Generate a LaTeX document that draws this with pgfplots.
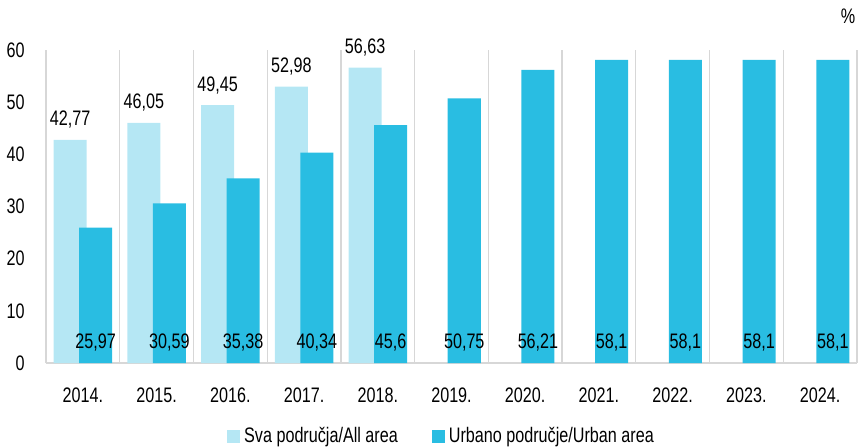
\documentclass[border=0pt]{standalone}
\usepackage{pgfplots}
\pgfplotsset{compat=1.18}
\usepackage{fontspec}
\setmainfont{Liberation Sans}[FakeStretch=0.77]
\definecolor{lightbar}{RGB}{181,231,244}
\definecolor{darkbar}{RGB}{41,189,226}
\definecolor{sepgray}{RGB}{215,215,215}
\begin{document}
\begin{tikzpicture}
\useasboundingbox (0,0) rectangle (431.5pt,223.5pt);
\begin{axis}[
  at={(23pt,42pt)}, anchor=south west,
  scale only axis, width=405.5pt, height=156.5pt,
  xmin=-0.5, xmax=10.5, ymin=0, ymax=60,
  clip=false,
  axis line style={draw=none},
  major tick length=0pt, minor tick length=0pt,
  xtick={0,...,10},
  xticklabels={2014.,2015.,2016.,2017.,2018.,2019.,2020.,2021.,2022.,2023.,2024.},
  minor xtick={-0.5,0.5,...,10.5},
  xminorgrids=true,
  minor grid style={draw=sepgray, line width=0.6pt},
  ytick={0,10,...,60},
  extra y ticks={0},
  extra y tick labels={},
  extra y tick style={grid=major, major grid style={draw=sepgray, line width=1pt}},
  /pgf/number format/assume math mode=true,
  tick label style={font=\fontsize{10.5}{12}\selectfont, inner sep=0pt},
  yticklabel style={anchor=east},
  yticklabel shift={10.5pt},
  xticklabel style={anchor=north},
  xticklabel shift={12pt},
  legend style={at={(0.5,0)}, anchor=center, yshift=-36.75pt, xshift=-4.5pt,
    draw=none, fill=none, inner sep=0pt,
    font=\fontsize{10.5}{12}\selectfont,
    /tikz/every even column/.append style={column sep=15pt}},
  legend columns=2,
  legend image code/.code={\fill[#1] (0pt,-3.25pt) rectangle (6.5pt,3.25pt);},
]
\addplot[ybar, bar width=0.448, bar shift=0pt, fill=lightbar, draw=none,
  nodes near coords={\pgfmathprintnumber[use comma,fixed,precision=2]{\pgfplotspointmeta}},
  every node near coord/.append style={anchor=base, yshift=7pt, inner sep=0pt,
    font=\fontsize{10.5}{12}\selectfont, text=black}]
  coordinates {(-0.173,42.77) (0.827,46.05) (1.827,49.45) (2.827,52.98) (3.827,56.63)};
\addlegendentry{Sva područja/All area}
\addplot[ybar, bar width=0.448, bar shift=0pt, fill=darkbar, draw=none]
  coordinates {(0.173,25.97) (1.173,30.59) (2.173,35.38) (3.173,40.34) (4.173,45.6)
    (5.173,50.75) (6.173,56.21) (7.173,58.1) (8.173,58.1) (9.173,58.1) (10.173,58.1)};
\addlegendentry{Urbano područje/Urban area}
\addplot[draw=none, mark=none, forget plot, point meta=explicit,
  nodes near coords={\pgfmathprintnumber[use comma,fixed,precision=2]{\pgfplotspointmeta}},
  every node near coord/.append style={anchor=center, yshift=10pt, inner sep=0pt,
    font=\fontsize{10.5}{12}\selectfont, text=black}]
  coordinates {(0.173,0)[25.97] (1.173,0)[30.59] (2.173,0)[35.38] (3.173,0)[40.34] (4.173,0)[45.6]
    (5.173,0)[50.75] (6.173,0)[56.21] (7.173,0)[58.1] (8.173,0)[58.1] (9.173,0)[58.1] (10.173,0)[58.1]};
\node[font=\fontsize{10.5}{12}\selectfont, inner sep=0pt] at (rel axis cs:0.989,1.109) {\%};
\end{axis}
\end{tikzpicture}
\end{document}
